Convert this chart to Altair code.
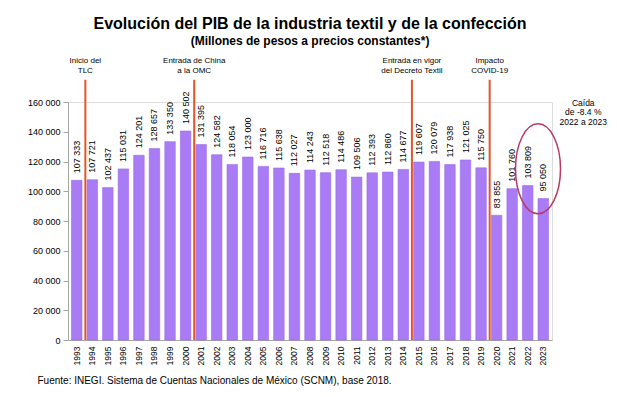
import altair as alt
import pandas as pd

years = [str(y) for y in range(1993, 2024)]
values = [107333, 107721, 102437, 115031, 124201, 128657, 133350, 140502,
          131395, 124582, 118054, 123000, 116716, 115638, 112027, 114243,
          112518, 114486, 109506, 112393, 112860, 114677, 119607, 120079,
          117938, 121025, 115750, 83855, 101760, 103809, 95050]
labels = [f"{v:,}".replace(",", " ") for v in values]

event_years = ["1994", "2001", "2015", "2020"]
event_texts = ["Inicio del\nTLC", "Entrada de China\na la OMC",
               "Entrada en vigor\ndel Decreto Textil", "Impacto\nCOVID-19"]
note_year = ["2023"]
note_text = ["Caída\nde -8.4 %\n2022 a 2023"]

title_text = "Evolución del PIB de la industria textil y de la confección"
subtitle_text = "(Millones de pesos a precios constantes*)"
source_text = "Fuente:  INEGI. Sistema de Cuentas Nacionales de México (SCNM), base 2018."

FONT = "Liberation Sans"

df = pd.DataFrame({"year": years, "value": values, "label": labels})
ev = pd.DataFrame({"year": event_years, "text": event_texts})
note = pd.DataFrame({"year": note_year, "text": note_text})

x_scale = alt.Scale(paddingInner=0.325, paddingOuter=0.225)
y_scale = alt.Scale(domain=[0, 160000], nice=False)

x_axis = alt.Axis(
    title=source_text, labelAngle=270, ticks=False, labelPadding=6,
    labelFontSize=8.5, labelColor="black", labelFont=FONT, labelOverlap=False,
    domainColor="#a6a6a6", titleFont=FONT, titleFontSize=10,
    titleFontWeight="normal", titleColor="black", titleAlign="left",
    titleBaseline="alphabetic", titleX=-31, titleY=43,
)
y_axis = alt.Axis(
    title=None, values=list(range(0, 160001, 20000)), grid=False,
    labelExpr="replace(format(datum.value, ','), ',', ' ')", labelOverlap=False,
    labelFontSize=9, labelColor="black", labelFont=FONT, labelPadding=3,
    tickSize=5, tickColor="#a6a6a6", domainColor="#a6a6a6",
)


def X(**kw):
    return alt.X("year:N", scale=x_scale, sort=None, axis=x_axis, **kw)


def YD(v):
    return alt.Y(datum=v, type="quantitative", scale=y_scale, axis=y_axis)


def Y2D(v):
    return alt.Y2(datum=v)


bars = alt.Chart(df).mark_bar(color="#A97CF6", stroke="#9A6BE8", strokeWidth=0.6).encode(
    x=X(), y=alt.Y("value:Q", scale=y_scale, axis=y_axis)
)

bar_labels = alt.Chart(df).mark_text(
    angle=270, align="left", baseline="middle", dx=7, fontSize=9, font=FONT, color="black"
).encode(x=X(), y=alt.Y("value:Q", scale=y_scale, axis=y_axis), text="label:N")

rules = alt.Chart(ev).mark_rule(color="#E4552A", strokeWidth=2, xOffset=-1.7).encode(
    x=X(bandPosition=0), y=YD(175000), y2=Y2D(0)
)

event_labels = alt.Chart(ev).mark_text(
    align="center", baseline="top", lineBreak="\n", fontSize=8, font=FONT,
    color="black", dx=-1.7, lineHeight=10.5
).encode(x=X(bandPosition=0), y=YD(190500), text="text:N")

ellipse = alt.Chart(note).mark_point(
    shape="M -0.5 0 A 0.5 1 0 1 1 0.5 0 A 0.5 1 0 1 1 -0.5 0 Z",
    size=8100, filled=False, color="#B83A63", strokeWidth=1.5, opacity=1
).encode(x=X(bandPosition=0), y=YD(115100))

note_label = alt.Chart(note).mark_text(
    align="center", baseline="top", lineBreak="\n", fontSize=8.5, font=FONT,
    color="black", dx=40, lineHeight=9.3
).encode(x=X(), y=YD(162000), text="text:N")

chart = alt.layer(bars, bar_labels, rules, event_labels, ellipse, note_label).properties(
    width=484, height=238,
    autosize=alt.AutoSizeParams(type="none"),
    padding={"left": 60, "top": 94, "right": 57, "bottom": 49},
    title=alt.Title(
        title_text, subtitle=subtitle_text, font=FONT, subtitleFont=FONT,
        fontSize=16, subtitleFontSize=12, fontWeight="bold", subtitleFontWeight="bold",
        color="black", subtitleColor="black", anchor="middle", offset=10,
        subtitlePadding=4, frame="group",
    ),
).configure_view(stroke=None).configure(background="white")

chart.save("out.html", embed_options={"renderer": "svg", "actions": False})
